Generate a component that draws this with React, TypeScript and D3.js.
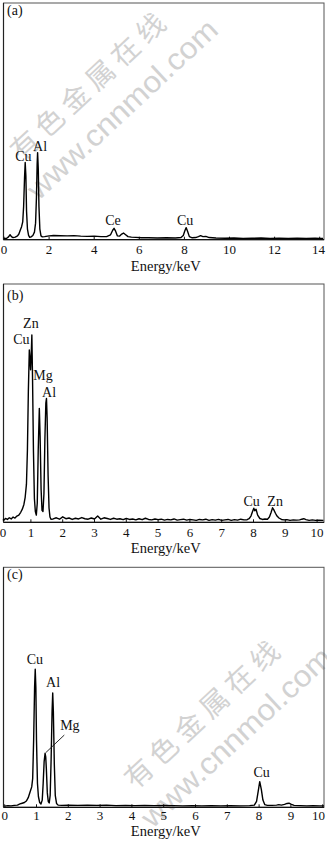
import React from 'react';
import * as d3 from 'd3';

// ---------- Panel (a) ----------
const energyA = [0.00,0.12,0.20,0.27,0.33,0.40,0.50,0.60,0.66,0.72,0.78,0.83,0.87,0.91,0.94,0.97,1.00,1.04,1.09,1.14,1.20,1.28,1.35,1.40,1.44,1.47,1.49,1.52,1.55,1.59,1.64,1.70,1.80,2.0,2.2,2.5,2.8,3.1,3.4,3.7,4.0,4.3,4.55,4.72,4.82,4.88,4.95,5.03,5.12,5.22,5.30,5.38,5.50,5.65,5.85,6.1,6.4,6.8,7.2,7.6,7.85,7.95,8.02,8.08,8.14,8.22,8.35,8.5,8.62,8.72,8.82,8.95,9.1,9.4,9.8,10.2,10.6,11.0,11.4,11.8,12.2,12.6,13.0,13.4,13.8,14.0,14.15];
const countsA = [0.5,0.6,1.2,2.1,1.3,0.9,1.1,1.6,2.4,4.0,5.5,7.5,14,26,32.6,27,12,4.5,1.8,1.0,1.2,1.8,3.2,7,18,32,36.8,30,14,4.5,1.6,1.2,1.3,1.6,1.8,1.7,1.6,1.7,1.5,1.4,1.5,1.3,1.3,2.0,4.0,4.8,3.6,1.6,1.5,2.4,2.8,2.2,1.3,1.1,1.0,0.8,0.8,0.7,0.8,0.7,0.9,1.8,3.8,5.1,3.6,1.3,0.8,0.9,1.3,1.7,1.3,1.4,0.9,0.7,0.6,0.7,0.5,0.6,0.7,0.5,0.6,0.5,0.6,0.5,0.6,0.5,0.5];
const ticksA = [0, 2, 4, 6, 8, 10, 12, 14];
const peakNamesA = ['Cu', 'Al', 'Ce', 'Cu'];
const peakEnergyA = [0.86, 1.60, 4.83, 8.03];
const peakLabelCountsA = [33.3, 37.6, 6.3, 6.3];

// ---------- Panel (b) ----------
const energyB = [0.02,0.08,0.14,0.2,0.26,0.32,0.38,0.44,0.5,0.56,0.62,0.68,0.73,0.78,0.82,0.86,0.89,0.92,0.95,0.97,0.99,1.01,1.03,1.05,1.08,1.11,1.14,1.17,1.2,1.23,1.265,1.29,1.32,1.35,1.38,1.41,1.44,1.47,1.49,1.51,1.54,1.57,1.6,1.63,
  1.7,1.8,1.9,2.0,2.1,2.2,2.3,2.4,2.5,2.6,2.7,2.8,2.9,3.0,3.1,3.2,3.3,3.4,3.5,3.6,3.7,3.8,3.9,4.0,4.1,4.2,4.3,4.4,4.5,4.6,4.7,4.8,4.9,5.0,5.1,5.2,5.3,5.4,5.5,5.6,5.7,5.8,5.9,6.0,6.1,6.2,6.3,6.4,6.5,6.6,6.7,6.8,6.9,7.0,7.1,7.2,7.3,7.4,7.5,7.6,7.7,7.8,
  7.86,7.92,7.97,8.01,8.04,8.08,8.13,8.2,8.28,8.36,8.44,8.5,8.55,8.6,8.64,8.69,8.74,8.8,8.88,8.96,9.05,9.15,9.25,9.35,9.45,9.52,9.58,9.65,9.75,9.85,9.95,10.05,10.2];
const countsB = [1.0,1.3,0.8,1.6,1.2,1.9,1.4,2.2,1.8,2.6,3.0,4.2,5.5,7.5,10.5,16,30,55,72.3,69,64,70,78.6,62,30,10,4.5,3.0,8,30,47.8,36,14,5,4.5,12,35,50,52,44,20,6,2.2,1.3,
  1.4,1.9,1.3,2.3,1.5,1.8,1.2,1.7,1.4,2.0,1.5,1.3,1.8,1.4,2.6,1.3,1.9,1.6,1.2,1.7,1.3,1.5,1.1,1.6,1.2,1.4,1.0,1.5,1.1,1.7,1.2,1.0,1.4,1.1,1.3,0.9,1.2,1.0,1.4,0.9,1.1,1.3,0.9,1.2,1.0,0.8,1.2,1.0,1.3,0.8,1.1,0.9,1.2,0.8,1.0,1.2,0.8,1.1,0.9,1.3,1.0,1.1,
  1.5,2.6,4.5,5.9,4.8,5.5,3.0,1.6,1.2,1.4,1.3,2.2,4.0,6.1,5.2,3.8,2.6,1.8,1.2,1.0,1.1,0.8,1.0,0.9,1.0,1.3,1.5,1.1,0.8,1.0,0.8,0.9,0.8];
const ticksBC = [0, 1, 2, 3, 4, 5, 6, 7, 8, 9, 10];
const peakNamesB = ['Zn', 'Cu', 'Mg', 'Al', 'Cu', 'Zn'];
const peakEnergyB = [1.0, 0.7, 1.38, 1.57, 7.94, 8.68];
const peakLabelCountsB = [81.5, 74.7, 59.6, 52.6, 6.8, 6.8];

// ---------- Panel (c) ----------
const energyC = [0.0,0.1,0.2,0.3,0.4,0.48,0.55,0.62,0.68,0.74,0.8,0.85,0.88,0.91,0.94,0.96,0.98,1.0,1.03,1.06,1.1,1.14,1.18,1.21,1.24,1.27,1.29,1.31,1.34,1.37,1.40,1.43,1.46,1.49,1.51,1.53,1.56,1.59,1.63,1.68,1.8,2.0,2.3,2.6,2.9,3.2,3.5,3.8,4.1,4.4,4.7,5.0,5.3,5.6,5.9,6.2,6.5,6.8,7.1,7.4,7.7,7.85,7.92,7.97,8.02,8.07,8.12,8.18,8.26,8.4,8.55,8.62,8.7,8.8,8.88,8.94,9.0,9.1,9.3,9.5,9.7,9.9,10.05];
const countsC = [0.5,0.7,0.6,0.8,0.9,1.4,1.7,2.0,2.6,4.0,6.5,8.5,12,28,50,57.5,50,28,10,4.5,2.0,1.4,3.0,10,19,22.5,21,16,6,2.4,1.8,5,20,40,47.6,40,18,5,1.6,0.9,0.8,0.9,0.8,0.9,0.8,0.9,0.7,0.8,0.7,0.8,0.7,0.8,0.7,0.6,0.7,0.6,0.7,0.6,0.7,0.6,0.7,0.9,2.5,6.5,10.7,7.5,3.0,1.1,0.8,0.8,0.9,1.1,0.9,1.2,1.6,1.7,1.3,0.8,0.7,0.6,0.7,0.6,0.6];
const peakNamesC = ['Cu', 'Al', 'Mg', 'Cu'];
const peakEnergyC = [0.95, 1.52, 2.05, 8.08];
const peakLabelCountsC = [59.7, 50.3, 32.2, 12.5];
const mgLeaderEnergy = [1.874, 1.29];
const mgLeaderCounts = [30.1, 22.75];

const serif = '"Liberation Serif", "Times New Roman", serif';

type PanelProps = {
  tag: string;
  energy: number[];
  counts: number[];
  ticks: number[];
  xDomain: [number, number];
  xRange: [number, number];
  top: number;
  bottom: number;
  tickLabelDy: number;
  titleDy: number;
  tagBaseline: number;
  names: string[];
  nameE: number[];
  nameI: number[];
  children?: (x: any, y: any) => React.ReactNode;
};

const FRAME_L = 3.5;
const FRAME_R = 324;

function Panel(p: PanelProps) {
  const x = d3.scaleLinear().domain(p.xDomain).range(p.xRange);
  const y = d3.scaleLinear().domain([0, 100]).range([p.bottom, p.top]);
  const pts = p.energy.map((e, i) => [e, p.counts[i]] as [number, number]);
  const line = d3.line<[number, number]>()
    .x(d => Math.max(FRAME_L, Math.min(FRAME_R, x(d[0]))))
    .y(d => y(d[1]));
  return (
    <g>
      <rect x={FRAME_L} y={p.top} width={FRAME_R - FRAME_L} height={p.bottom - p.top}
        fill="none" stroke="#555" strokeWidth={1} />
      <line x1={FRAME_L} x2={FRAME_R} y1={p.bottom} y2={p.bottom} stroke="#111" strokeWidth={1.3} />
      <line x1={FRAME_L} x2={FRAME_L} y1={p.top} y2={p.bottom} stroke="#222" strokeWidth={1.2} />
      {p.ticks.map(t => (
        <g key={t}>
          <line x1={x(t)} x2={x(t)} y1={p.bottom} y2={p.bottom - 3} stroke="#111" strokeWidth={1} />
          <text x={Math.min(318.5, Math.max(3, x(t)))} y={p.bottom + p.tickLabelDy} textAnchor="middle"
            fontFamily={serif} fontSize={13} fill="#111">{t}</text>
        </g>
      ))}
      <text x={(FRAME_L + FRAME_R) / 2 + 2} y={p.bottom + p.titleDy} textAnchor="middle"
        fontFamily={serif} fontSize={14.5} fill="#111">Energy/keV</text>
      <text x={7} y={p.tagBaseline} fontFamily={serif} fontSize={14} fill="#111">{p.tag}</text>
      <path d={line(pts) || ''} fill="none" stroke="#000" strokeWidth={1.4} strokeLinejoin="round" />
      {p.names.map((n, i) => (
        <text key={i} x={x(p.nameE[i])} y={y(p.nameI[i])} textAnchor="middle"
          fontFamily={serif} fontSize={14} fill="#111">{n}</text>
      ))}
      {p.children ? p.children(x, y) : null}
    </g>
  );
}

function Watermark({ cx, cy }: { cx: number; cy: number }) {
  return (
    <g transform={`translate(${cx},${cy}) rotate(-43)`} fill="#d2d2d2">
      <text x={0} y={-8} textAnchor="middle" fontFamily='"Noto Sans CJK SC", sans-serif'
        fontSize={28} textLength={200} lengthAdjust="spacing">有色金属在线</text>
      <text x={10} y={32} textAnchor="middle" fontFamily='"Liberation Sans", Arial, sans-serif'
        fontSize={30} textLength={248} lengthAdjust="spacingAndGlyphs">www.cnnmol.com</text>
    </g>
  );
}

export default function App() {
  return (
    <svg width={327} height={842} viewBox="0 0 327 842"
      style={{ position: 'absolute', left: 0, top: 0, background: '#fff' }}>
      <rect x={0} y={0} width={327} height={842} fill="#fff" />
      <Watermark cx={100} cy={100} />
      <Watermark cx={214} cy={728} />
      <Panel tag="(a)" energy={energyA} counts={countsA} ticks={ticksA}
        xDomain={[0, 14]} xRange={[4, 319.7]} top={3} bottom={239.7}
        tickLabelDy={14.3} titleDy={31.7} tagBaseline={15}
        names={peakNamesA} nameE={peakEnergyA} nameI={peakLabelCountsA} />
      <Panel tag="(b)" energy={energyB} counts={countsB} ticks={ticksBC}
        xDomain={[0, 10]} xRange={[-0.9, 317.1]} top={284} bottom={522.3}
        tickLabelDy={14.5} titleDy={31} tagBaseline={300}
        names={peakNamesB} nameE={peakEnergyB} nameI={peakLabelCountsB} />
      <Panel tag="(c)" energy={energyC} counts={countsC} ticks={ticksBC}
        xDomain={[0, 10]} xRange={[4.7, 322.7]} top={567.3} bottom={807.3}
        tickLabelDy={12.7} titleDy={28.5} tagBaseline={579}
        names={peakNamesC} nameE={peakEnergyC} nameI={peakLabelCountsC}>
        {(x, y) => (
          <line x1={x(mgLeaderEnergy[0])} y1={y(mgLeaderCounts[0])}
            x2={x(mgLeaderEnergy[1])} y2={y(mgLeaderCounts[1])} stroke="#111" strokeWidth={0.9} />
        )}
      </Panel>
    </svg>
  );
}
